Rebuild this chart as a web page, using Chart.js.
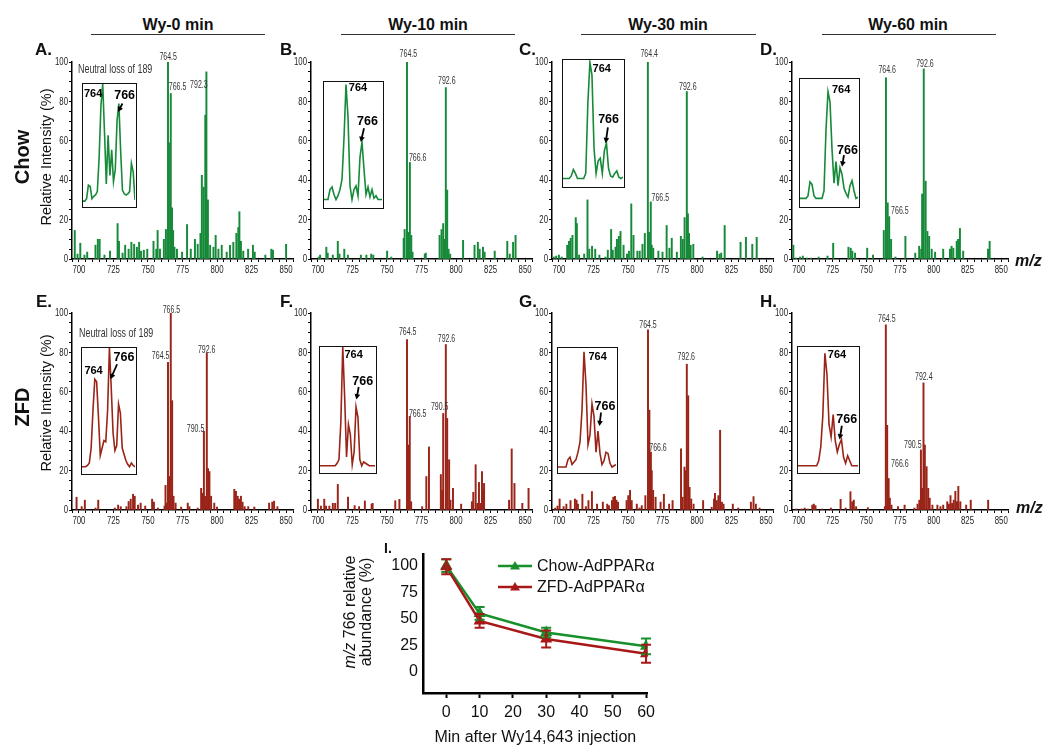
<!DOCTYPE html>
<html>
<head>
<meta charset="utf-8">
<script src="https://cdn.jsdelivr.net/npm/chart.js@4.4.1/dist/chart.umd.min.js"></script>
<style>
body { margin: 0; background: #fff; }
#fig { position: relative; width: 1050px; height: 756px; overflow: hidden; font-family: 'Liberation Sans', Arial, sans-serif; color: #111; }
.abs { position: absolute; }
.hdr { position: absolute; width: 200px; text-align: center; font-weight: bold; font-size: 16px; line-height: 20px; }
.hline { position: absolute; height: 0; border-top: 1.5px solid #333; }
.let { position: absolute; font-weight: bold; font-size: 17px; line-height: 20px; }
.rot { position: absolute; transform: translate(-50%, -50%) rotate(-90deg); white-space: nowrap; }
.inset { position: absolute; border: 1.5px solid #111; box-sizing: border-box; background: #fff; }
.inset canvas { display: block; }
.narrow { white-space: nowrap; transform: scaleX(0.66); transform-origin: 0 50%; }
</style>
</head>
<body>
<div id="fig"></div>
<script>
const GREEN = '#178a3a';
const RED = '#9a2418';
const GREEN_I = '#178f2a';
const RED_I = '#a81818';
const SANS = "'Liberation Sans', Arial, sans-serif";

// spectra: [m/z, relative intensity %]
const peaksA = [[697,14.5],[699,2.5],[701,8],[704,2],[706,3.5],[712,7],[713.7,10],[715,10],[718.5,2],[722.5,4],[728,18],[729,9],[731.6,3],[733.5,7],[736,5],[738,8.5],[740,7.5],[742,6],[743.6,8.5],[745,4],[747,4.5],[749.5,5],[754,9],[756,5],[757,14.5],[758.7,5],[761.5,10],[763,15],[764.5,100],[765.2,59],[766.5,84],[767.4,26],[768.2,14.5],[769.2,6],[771,5],[774.7,3.5],[778.3,17.5],[781,5],[784,10],[786,7.5],[788,13],[789,42.5],[790.3,36.5],[791.5,73],[792.3,95],[793.4,30],[795,7],[797.4,6],[799,12],[801,5],[803.4,7],[807,3.5],[809.4,7],[811.8,8.5],[814,13],[815.4,16],[816.2,24],[817.3,9],[819,4],[822.5,5],[826,7],[827.3,3.5],[835,2],[839.3,5],[840.5,4.5],[850,7.5]];
const peaksB = [[700.6,1],[701.6,2],[706.1,6],[707.1,3],[710.8,2],[714.4,9],[715.6,2.5],[719.1,5],[721.7,2],[731.1,2],[735.1,2],[738.6,2.5],[740.1,2],[750.1,4],[753.1,1],[762.1,10.5],[762.8,15],[764.5,100],[765.5,13.5],[766.6,49],[767.6,12],[768.5,3.5],[777.4,2.5],[778.1,3],[788.1,12],[789.5,15],[790.7,18],[791.4,10],[792.6,87],[793.6,35],[794.6,5],[795.8,2.5],[805.1,9.5],[813.4,7],[815.8,8.5],[817.1,5],[819.5,6],[820.7,3.5],[828,4],[837.1,9],[838.9,2.5],[841.3,8.5],[843.1,12]];
const peaksC = [[696.3,1],[698,1.5],[700,2],[702,1],[706,7],[707.3,9],[708.5,10.5],[709.8,12],[712.2,21],[713,18],[714.6,2],[718.3,2.5],[720.7,30],[722,5],[724,6.5],[726.3,5],[729.3,2],[733.7,1],[735.4,4.5],[737.8,15],[739,4.5],[741,6],[742,10],[743.4,11.5],[744.6,14],[746.8,7],[749.3,2.5],[750.7,4],[752.4,28],[754,12],[756.8,4],[758.5,4],[760.5,7.5],[762.2,13],[764.4,100],[765.2,13.5],[766.5,29],[767.2,7],[768.3,5.5],[772,4],[775,3.5],[778,17],[780,5.5],[781.7,10.5],[785.4,3.5],[788.3,11.5],[789.7,10],[791,21],[792.6,85],[793.4,23],[794.2,13],[795.4,7],[797.3,7.5],[804,1],[814.5,4],[816.3,2.5],[817.5,3],[820,17],[831.5,8.5],[835.4,11],[840,7.5],[843.2,11]];
const peaksD = [[696,7],[698,0.5],[701,1],[703,1.5],[706,0.5],[709,0.5],[714.7,1],[721.3,1.5],[725.5,8],[736.8,6],[738.5,5.5],[739.7,4],[741.7,3],[750.7,5.5],[755,2],[763,14.5],[764.6,92],[765.9,28.5],[767,21.5],[768.4,10],[771.6,1],[779,11.5],[786.3,3],[789.2,6.5],[790.7,5],[791.4,33],[792.6,96.5],[794,39.5],[795.3,14],[796.6,11.5],[798.5,5],[801,3.5],[807,5],[812,5],[813.2,6.5],[814.5,5.5],[817,9],[818,10],[819.4,15.5],[821.8,4],[840.2,5],[841.4,9]];
const peaksE = [[698.3,6.5],[702,1.7],[704.3,5],[712,1],[714,5],[726,1],[728.4,2.5],[730.3,1.7],[734.4,1.7],[736,4.3],[737.5,5.5],[739.2,8],[740.4,7],[742.8,2.5],[744.7,3.5],[748,2],[753,5.5],[754.3,4],[757.2,1],[762,2],[762.7,12.5],[763.7,3.5],[764.5,75],[765.6,17],[766.5,100],[767.5,55.5],[768.5,7],[770,3.5],[774,1.5],[778.8,3.5],[780,1.7],[786,1],[788.5,11],[789.4,8.5],[790.5,40],[791.3,7],[792.6,79.5],[793.5,21],[794.5,19.5],[795.7,7],[798,3.5],[800,1.5],[812.5,10.5],[813.7,9.5],[815,7],[816,5.5],[817.3,7],[818.5,4],[820,1.7],[822.6,1.7],[827,1.5],[837.7,3.5],[840,4],[841.3,4.5],[843.7,1.7]];
const peaksF = [[700,5.5],[702.2,2],[704.6,5.5],[705.9,2],[708.3,2],[710.8,3.4],[712.5,3.4],[714.4,13],[721.8,6.5],[726.6,2.2],[729.8,1.7],[734,4.6],[738.9,3],[739.6,3.4],[756,4.7],[759,5.4],[764.5,86.5],[765.5,33],[766.5,47.5],[767.5,4.2],[775.5,1.7],[778.5,17],[780.4,32],[789,18],[790,10],[790.7,49],[792.6,84],[793.6,46.5],[795,25.5],[796,5],[797.8,11],[803.7,3],[811.5,4.2],[812.5,9],[814.2,23],[815.4,3.4],[816.6,14],[817.8,3.4],[818.8,19.5],[819.6,10],[820.3,13.5],[838.4,5],[840.3,31],[842.3,13.5],[848,3.4],[852.5,11]];
const peaksG = [[697.3,1],[699,2],[700.5,5.6],[703.4,1.7],[705.4,3],[708.4,4.8],[711.6,5.6],[712.8,5],[713.8,3],[717,8],[719.5,1.7],[721.4,4.8],[723.9,9.4],[727.6,3],[731.8,4],[735,3],[736.2,2.2],[738.4,4.8],[739.4,6.5],[740.6,7],[741.6,5],[742.8,4],[749,4.8],[750.2,7.3],[751.5,10],[752.7,4.8],[756.4,3],[758.4,1],[760,2.2],[762.6,7.3],[764.5,91.5],[765.5,50.7],[766.6,29.4],[767.2,20],[768.2,10],[770,6.5],[773.6,4],[776,8],[779.8,3],[782.3,4.8],[788.4,31],[789.6,6.5],[790.9,21.8],[791.9,20],[792.6,74],[793.6,58],[794.6,11.5],[795.8,5.6],[797.5,3],[804.4,4.8],[810.6,1.4],[812.3,5.6],[813,8.5],[814.3,4.8],[815.5,7.3],[816.7,40.5],[818,4],[819.2,3],[825.9,3],[829.8,1],[839,4],[840.9,6.8],[842.6,3],[845.3,1]];
const peaksH = [[698.3,0.5],[702,0.5],[704.4,1],[706.8,0.5],[710,2.5],[711.2,3],[712.4,2.2],[717.2,0.5],[723.8,1],[731,5.4],[734.7,1],[738.3,9.3],[739.6,4.2],[740.8,5],[742.5,1.7],[751.2,1.2],[763.8,1.7],[764.5,94],[765.5,43],[766.6,16],[767.5,6],[768.7,2.5],[773.5,1.7],[778.4,2.5],[785.7,1],[788,3],[789.3,5],[790.5,30.5],[791.3,11],[792.4,64.5],[793.4,33],[794.7,22],[795.9,11],[797,6],[799,2.5],[802.7,2.5],[805,1.7],[807,2.5],[810,4.2],[811.2,3],[812.4,7.3],[813.6,3.4],[814.8,5],[816,9.5],[817.2,4.2],[818.2,12],[819.7,4.2],[824,2.5],[827.4,5],[840.3,5]];

// insets: 764/766 region profile, % of box height, evenly spaced
const insetA = [4,4,6,17,16,6,8,9,12,40,82,100,60,18,58,25,46,20,30,70,84,45,13,10,9,10,12,35,28,5];
const insetB = [6,6,6,14,16,10,6,9,14,22,55,98,72,17,6,14,17,9,40,52,30,10,16,8,14,7,9,6,6,6];
const insetC = [6,6,6,6,8,13,10,6,6,6,6,10,65,98,88,30,10,20,22,10,28,34,14,8,7,10,12,7,6,7];
const insetD = [6,6,6,6,8,19,17,8,6,6,6,6,12,60,90,82,45,18,35,16,30,25,14,10,7,16,20,12,6,7];
const insetE = [5,5,5,6,8,20,50,75,73,45,14,20,26,25,50,100,68,32,18,22,55,48,20,15,10,7,5,8,6,5];
const insetF = [5,5,5,5,5,5,5,5,5,7,10,40,100,60,12,38,30,6,16,52,44,10,5,8,7,6,5,5,5,5];
const insetG = [4,4,4,4,4,10,12,6,8,10,16,24,50,97,70,22,30,55,45,16,33,15,6,9,16,15,7,4,5,6];
const insetH = [5,5,5,5,5,5,5,5,5,5,9,20,45,95,78,38,28,46,25,16,22,26,12,7,13,9,5,5,5,5];

const specXLabels = [700, 725, 750, 775, 800, 825, 850];
const specYLabels = [0, 20, 40, 60, 80, 100];

// panel I
const minutes = [0, 10, 30, 60];
const chowMean = [100, 55, 37, 24];
const chowSem = [6, 6, 4.5, 7.5];
const zfdMean = [99, 48, 31, 17];
const zfdSem = [7, 6.5, 8, 8.5];
const iTicksX = [0, 10, 20, 30, 40, 50, 60];
const iTicksY = [0, 25, 50, 75, 100];

// peak tags: [m/z, level, text, align]
const tagsA = [[764.6,102.5,'764.5','c'],[765.1,87,'766.5','l'],[793.2,88,'792.3','r']];
const tagsB = [[765.5,104,'764.5','c'],[765.9,51,'766.6','l'],[793.3,90,'792.6','c']];
const tagsC = [[765.4,104,'764.4','c'],[767.1,31,'766.5','l'],[793.3,87,'792.6','c']];
const tagsD = [[765.5,96,'764.6','c'],[768.4,24,'766.5','l'],[793.5,99,'792.6','c']];
const tagsE = [[767,101.5,'766.5','c'],[765.5,78,'764.5','r'],[792.5,81,'792.6','c'],[790.8,41,'790.5','r']];
const tagsF = [[765,90,'764.5','c'],[765.9,48.5,'766.5','l'],[788.2,52,'790.5','c'],[793.1,86.5,'792.6','c']];
const tagsG = [[764.5,94,'764.5','c'],[765.4,31.5,'766.6','l'],[792.2,77.5,'792.6','c']];
const tagsH = [[765.2,97,'764.5','c'],[768.4,23,'766.6','l'],[792.6,67.5,'792.4','c'],[791,33,'790.5','r']];

// inset notes: '764' pos, '766' pos, arrow [from idx, from level, to idx, to level]
const notesA = { a: [0.5, 92], b: [17.4, 90.7], arrow: [22, 84, 19.5, 77] };
const notesB = { a: [12.4, 95], b: [16.5, 68], arrow: [20, 63, 18.4, 52] };
const notesC = { a: [14.3, 93], b: [17, 53], arrow: [21.7, 46.5, 20.6, 34] };
const notesD = { a: [16, 91], b: [18.5, 44], arrow: [22, 40, 21, 31] };
const notesE = { a: [1.3, 82], b: [17.3, 92.7], arrow: [19.2, 87, 15.6, 75] };
const notesF = { a: [12.9, 94], b: [17, 72.7], arrow: [20.4, 68, 19.2, 58] };
const notesG = { a: [15.2, 93], b: [18.3, 53], arrow: [21.5, 48, 20.7, 37] };
const notesH = { a: [14.4, 94], b: [18.5, 42], arrow: [21.2, 37, 20.1, 26] };

const PANELS = [
    { peaks: peaksA, color: GREEN, axisX: 72,  top: 62,  w: 221, tags: tagsA, inset: insetA, notes: notesA, box: [82, 83, 55, 125] },
    { peaks: peaksB, color: GREEN, axisX: 311, top: 62,  w: 221, tags: tagsB, inset: insetB, notes: notesB, box: [323, 81, 61, 128] },
    { peaks: peaksC, color: GREEN, axisX: 552, top: 62,  w: 221, tags: tagsC, inset: insetC, notes: notesC, box: [562, 59, 63, 129] },
    { peaks: peaksD, color: GREEN, axisX: 792, top: 62,  w: 216, tags: tagsD, inset: insetD, notes: notesD, box: [799, 78, 61, 130] },
    { peaks: peaksE, color: RED,   axisX: 72,  top: 313, w: 221, tags: tagsE, inset: insetE, notes: notesE, box: [81, 347, 56, 128] },
    { peaks: peaksF, color: RED,   axisX: 311, top: 313, w: 221, tags: tagsF, inset: insetF, notes: notesF, box: [319, 346, 58, 128] },
    { peaks: peaksG, color: RED,   axisX: 552, top: 313, w: 221, tags: tagsG, inset: insetG, notes: notesG, box: [557, 347, 61, 127] },
    { peaks: peaksH, color: RED,   axisX: 792, top: 313, w: 216, tags: tagsH, inset: insetH, notes: notesH, box: [797, 346, 63, 128] }
];

Chart.defaults.font.family = SANS;
Chart.defaults.animation = false;

const fig = document.getElementById('fig');

function put(html, cls, css) {
    const d = document.createElement('div');
    if (cls) d.className = cls;
    d.style.cssText = css;
    d.innerHTML = html;
    fig.appendChild(d);
    return d;
}

function makeCanvas(parent, w, h, css) {
    const c = document.createElement('canvas');
    c.width = w; c.height = h;
    c.style.cssText = css || '';
    parent.appendChild(c);
    return c;
}

// condensed text: the original uses a narrow face that is not installed
function narrowText(ctx, text, px, py, align, sx) {
    ctx.save();
    ctx.translate(px, py);
    ctx.scale(sx, 1);
    ctx.textAlign = align;
    ctx.fillText(text, 0, 0);
    ctx.restore();
}

const peakTags = {
    id: 'peakTags',
    afterDatasetsDraw(chart, args, opts) {
        const { ctx, scales: { x, y } } = chart;
        ctx.save();
        ctx.font = '10px ' + SANS;
        ctx.fillStyle = '#333';
        ctx.textBaseline = 'middle';
        (opts.tags || []).forEach(([mz, v, text, al]) => {
            const a = al === 'l' ? 'left' : (al === 'r' ? 'right' : 'center');
            narrowText(ctx, text, x.getPixelForValue(mz), y.getPixelForValue(v), a, 0.7);
        });
        ctx.restore();
    }
};

// tick labels of the spectra, condensed, placed from the scales' own ticks
const narrowTicks = {
    id: 'narrowTicks',
    afterDraw(chart) {
        const { ctx, scales: { x, y }, chartArea } = chart;
        ctx.save();
        ctx.font = '11.5px ' + SANS;
        ctx.fillStyle = '#222';
        ctx.textBaseline = 'middle';
        x.ticks.forEach(t => {
            if (specXLabels.includes(t.value)) narrowText(ctx, String(t.value), x.getPixelForValue(t.value), chartArea.bottom + 11, 'center', 0.68);
        });
        y.ticks.forEach(t => {
            if (specYLabels.includes(t.value)) narrowText(ctx, String(t.value), chartArea.left - 4, y.getPixelForValue(t.value), 'right', 0.68);
        });
        ctx.restore();
    }
};

const insetNotes = {
    id: 'insetNotes',
    afterDatasetsDraw(chart, args, opts) {
        const n = opts.n;
        if (!n) return;
        const { ctx, scales: { x, y } } = chart;
        ctx.save();
        ctx.fillStyle = '#000';
        ctx.strokeStyle = '#000';
        ctx.textBaseline = 'middle';
        ctx.textAlign = 'left';
        ctx.font = 'bold 11px ' + SANS;
        ctx.fillText('764', x.getPixelForValue(n.a[0]), y.getPixelForValue(n.a[1]));
        ctx.font = 'bold 12.5px ' + SANS;
        ctx.fillText('766', x.getPixelForValue(n.b[0]), y.getPixelForValue(n.b[1]));
        const [i1, v1, i2, v2] = n.arrow;
        const x1 = x.getPixelForValue(i1), y1 = y.getPixelForValue(v1);
        const x2 = x.getPixelForValue(i2), y2 = y.getPixelForValue(v2);
        const ang = Math.atan2(y2 - y1, x2 - x1);
        ctx.lineWidth = 1.8;
        ctx.beginPath();
        ctx.moveTo(x1, y1);
        ctx.lineTo(x2 - 4 * Math.cos(ang), y2 - 4 * Math.sin(ang));
        ctx.stroke();
        ctx.beginPath();
        ctx.moveTo(x2, y2);
        ctx.lineTo(x2 - 6 * Math.cos(ang - 0.5), y2 - 6 * Math.sin(ang - 0.5));
        ctx.lineTo(x2 - 6 * Math.cos(ang + 0.5), y2 - 6 * Math.sin(ang + 0.5));
        ctx.closePath();
        ctx.fill();
        ctx.restore();
    }
};

function drawSpectrum(p) {
    const plotH = 197, padTop = 16, axisH = 22, yW = 32, padR = 4;
    const cv = makeCanvas(fig, yW + p.w + padR, padTop + plotH + axisH,
        `position:absolute;left:${p.axisX - yW}px;top:${p.top - padTop}px;`);
    new Chart(cv, {
        type: 'bar',
        data: { datasets: [{ data: p.peaks.map(([m, v]) => ({ x: m, y: v })), backgroundColor: p.color, barThickness: 1.3, borderWidth: 0 }] },
        options: {
            responsive: false,
            layout: { padding: { top: padTop, right: padR, left: 0, bottom: 0 } },
            plugins: { legend: { display: false }, tooltip: { enabled: false }, peakTags: { tags: p.tags } },
            scales: {
                x: {
                    type: 'linear', min: 695, max: 855, offset: false,
                    afterFit: s => { s.height = axisH; },
                    grid: { offset: false, drawOnChartArea: false, tickLength: 3, color: '#000', lineWidth: 1 },
                    border: { display: true, color: '#000', width: 1.5 },
                    ticks: { stepSize: 5, autoSkip: false, display: false }
                },
                y: {
                    min: 0, max: 100,
                    afterFit: s => { s.width = yW; },
                    grid: { drawOnChartArea: false, tickLength: 3, color: '#000', lineWidth: 1 },
                    border: { display: true, color: '#000', width: 1.5 },
                    ticks: { stepSize: 5, autoSkip: false, display: false }
                }
            }
        },
        plugins: [peakTags, narrowTicks]
    });

    const [bl, bt, bw, bh] = p.box;
    const box = put('', 'inset', `left:${bl}px;top:${bt}px;width:${bw}px;height:${bh}px;`);
    const ic = makeCanvas(box, bw - 3, bh - 3);
    new Chart(ic, {
        type: 'line',
        data: { datasets: [{ data: p.inset.map((v, i) => ({ x: i, y: v })), borderColor: p.color, borderWidth: 1.6, pointRadius: 0, tension: 0 }] },
        options: {
            responsive: false,
            layout: { padding: 0 },
            plugins: { legend: { display: false }, tooltip: { enabled: false }, insetNotes: { n: p.notes } },
            scales: {
                x: { type: 'linear', min: 0, max: p.inset.length - 1, display: false },
                y: { min: 0, max: 100, display: false }
            }
        },
        plugins: [insetNotes]
    });
}

PANELS.forEach(drawSpectrum);

// headers, letters, side labels
[['Wy-0 min', 178, 91, 265], ['Wy-10 min', 428, 341, 515], ['Wy-30 min', 668, 581, 756], ['Wy-60 min', 908, 822, 996]]
    .forEach(([t, cx, x1, x2]) => {
        put(t, 'hdr', `left:${cx - 100}px;top:15px;`);
        put('', 'hline', `left:${x1}px;top:34px;width:${x2 - x1}px;`);
    });
[['A.', 35, 50], ['B.', 280, 50], ['C.', 519, 50], ['D.', 760, 50], ['E.', 36, 302], ['F.', 280, 302], ['G.', 519, 302], ['H.', 760, 302]]
    .forEach(([t, x, y]) => put(t, 'let', `left:${x}px;top:${y - 10}px;`));

put('Chow', 'rot', 'left:22px;top:157px;font-weight:bold;font-size:20px;');
put('Relative Intensity (%)', 'rot', 'left:46px;top:157px;font-size:14.5px;');
put('ZFD', 'rot', 'left:22px;top:407px;font-weight:bold;font-size:20px;');
put('Relative Intensity (%)', 'rot', 'left:46px;top:403px;font-size:14.5px;');
put('Neutral loss of 189', 'abs narrow', 'left:78px;top:61px;font-size:13.5px;line-height:16px;color:#333;');
put('Neutral loss of 189', 'abs narrow', 'left:79px;top:325px;font-size:13.5px;line-height:16px;color:#333;');
put('<i>m/z</i>', 'abs', 'left:1015px;top:252px;font-weight:bold;font-size:16px;');
put('<i>m/z</i>', 'abs', 'left:1016px;top:499px;font-weight:bold;font-size:16px;');

// panel I
put('I.', 'let', 'left:384px;top:538px;font-size:14px;');
put('<i>m/z</i> 766 relative<br>abundance (%)', 'rot', 'left:358px;top:612px;font-size:16px;line-height:16px;text-align:center;');

const errorBars = {
    id: 'errorBars',
    afterDatasetsDraw(chart) {
        const { ctx, scales: { x, y } } = chart;
        ctx.save();
        chart.data.datasets.forEach(ds => {
            ctx.strokeStyle = ds.borderColor;
            ctx.lineWidth = 2;
            ds.data.forEach((pt, i) => {
                const px = x.getPixelForValue(pt.x);
                const lo = y.getPixelForValue(pt.y - ds.errors[i]);
                const hi = y.getPixelForValue(pt.y + ds.errors[i]);
                ctx.beginPath();
                ctx.moveTo(px, lo); ctx.lineTo(px, hi);
                ctx.moveTo(px - 5, lo); ctx.lineTo(px + 5, lo);
                ctx.moveTo(px - 5, hi); ctx.lineTo(px + 5, hi);
                ctx.stroke();
            });
        });
        ctx.restore();
    }
};

const legendI = {
    id: 'legendI',
    afterDraw(chart, args, opts) {
        const ctx = chart.ctx;
        ctx.save();
        chart.data.datasets.forEach((ds, k) => {
            const y = opts.y0 + k * opts.dy;
            const x0 = opts.x0, x1 = opts.x0 + 34, xm = (x0 + x1) / 2;
            ctx.strokeStyle = ds.borderColor;
            ctx.fillStyle = ds.borderColor;
            ctx.lineWidth = 2.5;
            ctx.beginPath(); ctx.moveTo(x0, y); ctx.lineTo(x1, y); ctx.stroke();
            ctx.beginPath();
            ctx.moveTo(xm, y - 5); ctx.lineTo(xm + 5, y + 3.5); ctx.lineTo(xm - 5, y + 3.5);
            ctx.closePath(); ctx.fill();
            ctx.fillStyle = '#111';
            ctx.font = '16px ' + SANS;
            ctx.textBaseline = 'middle';
            ctx.textAlign = 'left';
            ctx.fillText(ds.label, x1 + 5, y + 1);
        });
        ctx.restore();
    }
};

const ci = makeCanvas(fig, 320, 207, 'position:absolute;left:340px;top:540px;');
new Chart(ci, {
    type: 'line',
    data: {
        datasets: [
            { label: 'Chow-AdPPARα', data: minutes.map((m, i) => ({ x: m, y: chowMean[i] })), errors: chowSem,
              borderColor: GREEN_I, backgroundColor: GREEN_I, borderWidth: 2.5, pointStyle: 'triangle', pointRadius: 4.5, tension: 0, order: 1 },
            { label: 'ZFD-AdPPARα', data: minutes.map((m, i) => ({ x: m, y: zfdMean[i] })), errors: zfdSem,
              borderColor: RED_I, backgroundColor: RED_I, borderWidth: 2.5, pointStyle: 'triangle', pointRadius: 4.5, tension: 0, order: 0 }
        ]
    },
    options: {
        responsive: false,
        layout: { padding: { top: 13, right: 8, left: 0, bottom: 0 } },
        plugins: { legend: { display: false }, tooltip: { enabled: false }, legendI: { x0: 158, y0: 26, dy: 21 } },
        scales: {
            x: {
                type: 'linear', min: -7, max: 60.5,
                afterBuildTicks: s => { s.ticks = iTicksX.map(v => ({ value: v })); },
                afterFit: s => { s.height = 54; },
                grid: { drawOnChartArea: false, tickLength: 5, tickWidth: 2, color: '#000' },
                border: { display: true, color: '#000', width: 2.5 },
                ticks: { font: { size: 16 }, color: '#111', padding: 5, maxRotation: 0, autoSkip: false },
                title: { display: true, text: 'Min after Wy14,643 injection', font: { size: 16 }, color: '#111', padding: 0 }
            },
            y: {
                min: -20, max: 110.5,
                afterBuildTicks: s => { s.ticks = iTicksY.map(v => ({ value: v })); },
                afterFit: s => { s.width = 83; },
                grid: { drawOnChartArea: false, drawTicks: false },
                border: { display: true, color: '#000', width: 2.5 },
                ticks: { font: { size: 16 }, color: '#111', padding: 5, autoSkip: false }
            }
        }
    },
    plugins: [errorBars, legendI]
});
</script>
</body>
</html>
